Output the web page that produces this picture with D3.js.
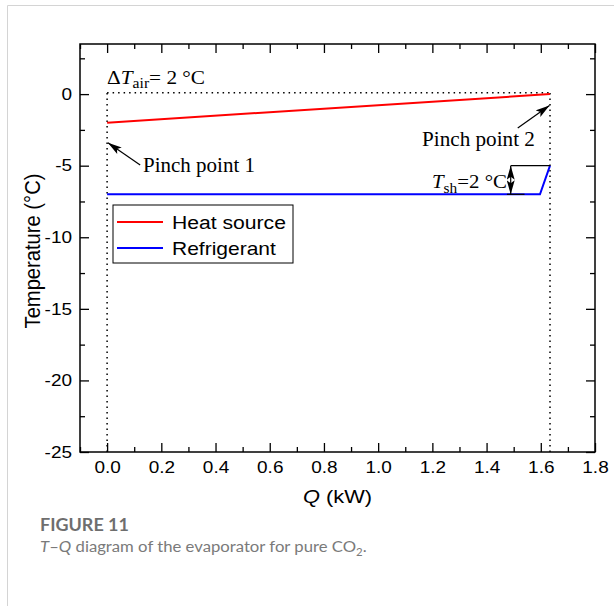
<!DOCTYPE html>
<html><head><meta charset="utf-8">
<script src="https://cdn.jsdelivr.net/npm/d3@7"></script>
<style>body{margin:0;background:#fff}svg{display:block}</style>
</head><body>
<script>
// ---- data ----
const heatSourceQ = [0, 1.634];
const heatSourceT = [-2, 0];
const refrigerantQ = [0, 1.597, 1.634];
const refrigerantT = [-7, -7, -5];
const xTickValues = [0.0, 0.2, 0.4, 0.6, 0.8, 1.0, 1.2, 1.4, 1.6, 1.8];
const yTickValues = [-25, -20, -15, -10, -5, 0];
const seriesNames = ["Heat source", "Refrigerant"];
const seriesColors = ["#ff0000", "#0000ff"];

const W = 614, H = 606;
const M = {left: 80, right: 595, top: 44, bottom: 452};
const SANS = "'Liberation Sans', Arial, sans-serif";
const SERIF = "'Liberation Serif', 'Times New Roman', serif";
const STRETCH = 1.15;
const TICK_FS = 16.5;
const svg = d3.select("body").append("svg").attr("width", W).attr("height", H);

// outer frame lines
svg.append("line").attr("x1", 7.5).attr("x2", W).attr("y1", 5.5).attr("y2", 5.5).attr("stroke", "#d4d4d4");
svg.append("line").attr("x1", 7.5).attr("x2", 7.5).attr("y1", 5.5).attr("y2", H).attr("stroke", "#d4d4d4");

const x = d3.scaleLinear().domain([-0.1, 1.8]).range([M.left, M.right]);
const y = d3.scaleLinear().domain([-25, 3.5]).range([M.bottom, M.top]);

const g = svg.append("g");
const xMinor = d3.range(-0.1, 1.81, 0.1).map(v => +v.toFixed(2)).filter(v => !xTickValues.some(t => Math.abs(t - v) < 1e-6));
const yMinor = d3.range(-22.5, 3.5, 5);

function styleAxis(sel) {
  sel.attr("font-size", null).attr("font-family", null);
  sel.select(".domain").remove();
  sel.selectAll("line").attr("stroke", "#000").attr("stroke-width", 1.3);
  sel.selectAll("text").each(function () {
    const t = d3.select(this).style("font-family", SANS).style("font-size", TICK_FS + "px").attr("fill", "#000");
    const x0 = +t.attr("x") || 0;
    t.attr("transform", `translate(${x0},0) scale(${STRETCH},1)`).attr("x", 0);
  });
}
// bottom
g.append("g").attr("transform", `translate(0,${M.bottom})`)
  .call(d3.axisBottom(x).tickValues(xTickValues).tickFormat(d3.format(".1f")).tickSizeInner(-9).tickSizeOuter(0).tickPadding(9))
  .call(styleAxis);
g.append("g").attr("transform", `translate(0,${M.bottom})`)
  .call(d3.axisBottom(x).tickValues(xMinor).tickFormat("").tickSizeInner(-5).tickSizeOuter(0)).call(styleAxis);
// top
g.append("g").attr("transform", `translate(0,${M.top})`)
  .call(d3.axisTop(x).tickValues(xTickValues).tickFormat("").tickSizeInner(-9).tickSizeOuter(0)).call(styleAxis);
g.append("g").attr("transform", `translate(0,${M.top})`)
  .call(d3.axisTop(x).tickValues(xMinor).tickFormat("").tickSizeInner(-5).tickSizeOuter(0)).call(styleAxis);
// left
g.append("g").attr("transform", `translate(${M.left},0)`)
  .call(d3.axisLeft(y).tickValues(yTickValues).tickFormat(d => String(d)).tickSizeInner(-9).tickSizeOuter(0).tickPadding(8))
  .call(styleAxis);
g.append("g").attr("transform", `translate(${M.left},0)`)
  .call(d3.axisLeft(y).tickValues(yMinor).tickFormat("").tickSizeInner(-5).tickSizeOuter(0)).call(styleAxis);
// right
g.append("g").attr("transform", `translate(${M.right},0)`)
  .call(d3.axisRight(y).tickValues(yTickValues).tickFormat("").tickSizeInner(-9).tickSizeOuter(0)).call(styleAxis);
g.append("g").attr("transform", `translate(${M.right},0)`)
  .call(d3.axisRight(y).tickValues(yMinor).tickFormat("").tickSizeInner(-5).tickSizeOuter(0)).call(styleAxis);
// frame
g.append("rect").attr("x", M.left).attr("y", M.top).attr("width", M.right - M.left).attr("height", M.bottom - M.top)
  .attr("fill", "none").attr("stroke", "#000").attr("stroke-width", 1.5);

// dotted guide lines
const Qend = heatSourceQ[1];
function dline(x1, y1, x2, y2) {
  g.append("line").attr("x1", x(x1)).attr("y1", y(y1)).attr("x2", x(x2)).attr("y2", y(y2))
    .attr("stroke", "#000").attr("stroke-width", 1.5).attr("stroke-dasharray", "1.5,4");
}
dline(0, -25, 0, 0.1);
dline(Qend, -25, Qend, 0.1);
dline(0, 0.1, Qend, 0.1);

// series
const line = d3.line().x(d => x(d[0])).y(d => y(d[1]));
g.append("path").datum(heatSourceQ.map((q, i) => [q, heatSourceT[i]]))
  .attr("d", line).attr("fill", "none").attr("stroke", seriesColors[0]).attr("stroke-width", 2);
g.append("path").datum(refrigerantQ.map((q, i) => [q, refrigerantT[i]]))
  .attr("d", line).attr("fill", "none").attr("stroke", seriesColors[1]).attr("stroke-width", 2);

// arrow markers
const defs = svg.append("defs");
defs.append("marker").attr("id", "ah").attr("viewBox", "0 0 14 8").attr("refX", 14).attr("refY", 4)
  .attr("markerWidth", 14).attr("markerHeight", 8).attr("markerUnits", "userSpaceOnUse").attr("orient", "auto-start-reverse")
  .append("path").attr("d", "M0,0 L14,4 L0,8 L3,4 z").attr("fill", "#000");

function arrow(q1, t1, q2, t2, both) {
  const l = g.append("line").attr("x1", x(q1)).attr("y1", y(t1)).attr("x2", x(q2)).attr("y2", y(t2))
    .attr("stroke", "#000").attr("stroke-width", 1.2).attr("marker-end", "url(#ah)");
  if (both) l.attr("marker-start", "url(#ah)");
}
arrow(0.122, -4.95, 0.003, -3.4);
arrow(1.515, -2.37, 1.632, -0.8);
arrow(1.489, -5, 1.489, -7, true);
g.append("line").attr("x1", x(1.489)).attr("x2", x(Qend)).attr("y1", y(-5)).attr("y2", y(-5)).attr("stroke", "#000").attr("stroke-width", 1.2);
g.append("line").attr("x1", x(1.475)).attr("x2", x(1.54)).attr("y1", y(-7)).attr("y2", y(-7)).attr("stroke", "#000").attr("stroke-width", 1.2);

// place a horizontal text at (x0, y0) stretched to a target width
function fit(parent, x0, y0, width, build, anchor) {
  const t = parent.append("text").attr("x", 0).attr("y", 0);
  build(t);
  const w = t.node().getComputedTextLength();
  const k = width / w;
  const dx = anchor === "middle" ? -width / 2 : 0;
  t.attr("transform", `translate(${x0 + dx},${y0}) scale(${k},1)`);
  return t;
}

fit(g, x(0), 84, 98, t => {
  t.attr("font-family", SERIF).attr("font-size", 19);
  t.append("tspan").text("Δ");
  t.append("tspan").attr("font-style", "italic").text("T");
  t.append("tspan").attr("font-size", 14).attr("dy", 4).text("air");
  t.append("tspan").attr("dy", -4).text("= 2 °C");
});
fit(g, 143, 172, 112, t => t.attr("font-family", SERIF).attr("font-size", 20).text("Pinch point 1"));
fit(g, 422, 146, 113, t => t.attr("font-family", SERIF).attr("font-size", 20).text("Pinch point 2"));
fit(g, 432, 188, 75, t => {
  t.attr("font-family", SERIF).attr("font-size", 19);
  t.append("tspan").attr("font-style", "italic").text("T");
  t.append("tspan").attr("font-size", 14).attr("dy", 5).text("sh");
  t.append("tspan").attr("dy", -5).text("=2 °C");
});

// legend
const lg = g.append("g");
lg.append("rect").attr("x", 113).attr("y", 205).attr("width", 180).attr("height", 58).attr("fill", "#fff").attr("stroke", "#000").attr("stroke-width", 1);
const legendWidths = [114, 104];
seriesNames.forEach((n, i) => {
  const yy = 222 + i * 26;
  lg.append("line").attr("x1", 117).attr("x2", 163).attr("y1", yy).attr("y2", yy).attr("stroke", seriesColors[i]).attr("stroke-width", 2);
  fit(lg, 172, yy + 7, legendWidths[i], t => t.attr("font-family", SANS).attr("font-size", 18).text(n));
});

// axis titles
{
  const t = svg.append("text").attr("text-anchor", "middle").attr("font-family", SANS).attr("font-size", 19).text("Temperature (°C)");
  const k = 155 / t.node().getComputedTextLength();
  t.attr("transform", `translate(40,${(M.top + M.bottom) / 2 + 3}) rotate(-90) scale(${k},${STRETCH})`);
}
fit(svg, (M.left + M.right) / 2, 503, 69, t => {
  t.attr("font-family", SANS).attr("font-size", 19);
  t.append("tspan").attr("font-style", "italic").text("Q");
  t.append("tspan").text(" (kW)");
}, "middle");

// caption
fit(svg, 40, 531, 89, t => t.attr("font-family", "Lato, 'Open Sans', sans-serif").attr("font-weight", "bold")
  .attr("font-size", 17).attr("fill", "#6e6e6e").text("FIGURE 11"));
fit(svg, 40, 552, 327, t => {
  t.attr("font-family", "Lato, 'Open Sans', sans-serif").attr("font-size", 16).attr("fill", "#7a7a7a");
  t.append("tspan").attr("font-style", "italic").text("T");
  t.append("tspan").text("–");
  t.append("tspan").attr("font-style", "italic").text("Q");
  t.append("tspan").text(" diagram of the evaporator for pure CO");
  t.append("tspan").attr("font-size", 11).attr("dy", 4).text("2");
  t.append("tspan").attr("dy", -4).text(".");
});
</script>
</body></html>
